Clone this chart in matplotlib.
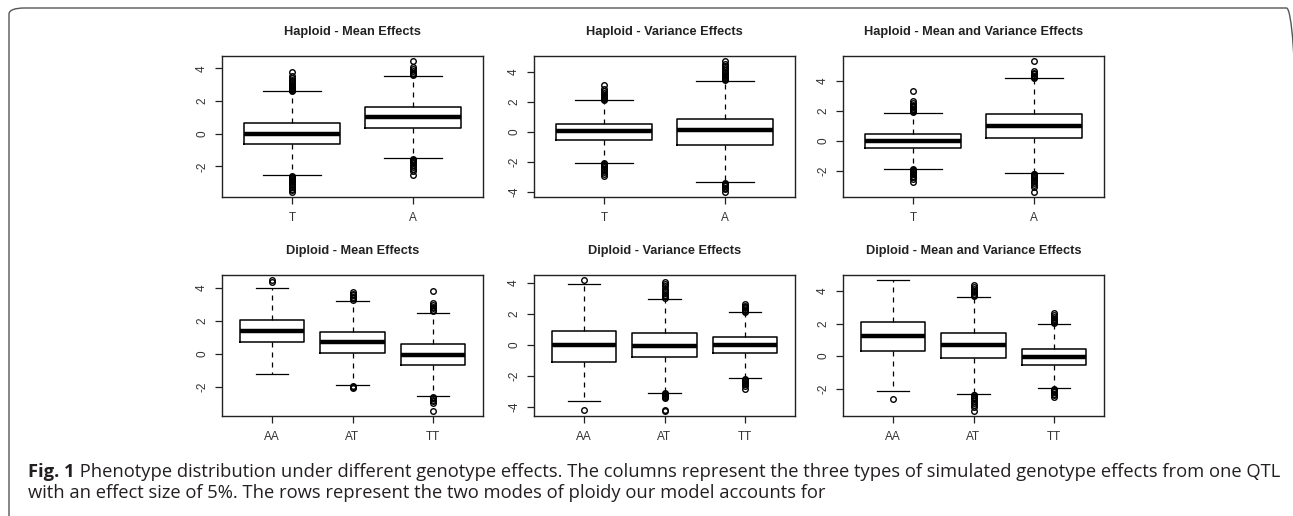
import matplotlib
matplotlib.use("Agg")
import matplotlib.pyplot as plt
from matplotlib import font_manager
from matplotlib.patches import FancyBboxPatch

W, H = 1293, 516
plt.rcParams["axes.unicode_minus"] = False
plt.rcParams["font.family"] = ["Liberation Sans", "DejaVu Sans"]

# ---- data (box stats + outliers) ----
hap_labels = ["T", "A"]
dip_labels = ["AA", "AT", "TT"]

titles = [
    "Haploid - Mean Effects", "Haploid - Variance Effects", "Haploid - Mean and Variance Effects",
    "Diploid - Mean Effects", "Diploid - Variance Effects", "Diploid - Mean and Variance Effects",
]

# (whislo, q1, med, q3, whishi)
hap_mean = [(-2.52, -0.63, 0.0, 0.63, 2.58), (-1.46, 0.37, 1.0, 1.62, 3.51)]
hap_mean_out = [
    [2.62, 2.66, 2.7, 2.74, 2.8, 2.86, 2.93, 3.0, 3.1, 3.2, 3.3, 3.42, 3.52, 3.8,
     -2.56, -2.62, -2.68, -2.74, -2.8, -2.88, -2.96, -3.05, -3.15, -3.25, -3.35, -3.45, -3.55],
    [3.56, 3.62, 3.7, 3.82, 3.95, 4.08, 4.43,
     -1.52, -1.58, -1.65, -1.72, -1.8, -1.9, -2.02, -2.15, -2.3, -2.52],
]
hap_var = [(-2.07, -0.53, 0.02, 0.53, 2.1), (-3.36, -0.85, 0.09, 0.84, 3.4)]
hap_var_out = [
    [2.14, 2.2, 2.26, 2.33, 2.4, 2.48, 2.58, 2.7, 2.85, 3.1,
     -2.1, -2.15, -2.22, -2.3, -2.38, -2.46, -2.55, -2.68, -2.82, -2.95],
    [3.44, 3.5, 3.56, 3.63, 3.7, 3.8, 3.9, 4.0, 4.12, 4.25, 4.38, 4.52, 4.7,
     -3.42, -3.48, -3.55, -3.62, -3.72, -3.84, -4.0],
]
hap_both = [(-1.88, -0.49, 0.0, 0.47, 1.88), (-2.17, 0.2, 0.99, 1.77, 4.18)]
hap_both_out = [
    [1.93, 1.98, 2.04, 2.1, 2.16, 2.24, 2.32, 2.42, 2.55, 2.68, 3.34,
     -1.92, -1.97, -2.03, -2.1, -2.17, -2.25, -2.34, -2.45, -2.58, -2.75],
    [4.22, 4.28, 4.36, 4.45, 4.56, 4.68, 5.33,
     -2.21, -2.26, -2.32, -2.38, -2.45, -2.53, -2.62, -2.72, -2.84, -2.96, -3.09, -3.42],
]
dip_mean = [(-1.24, 0.69, 1.36, 2.03, 4.0), (-1.87, 0.02, 0.69, 1.32, 3.21),
            (-2.56, -0.67, -0.06, 0.59, 2.46)]
dip_mean_out = [
    [4.35, 4.47],
    [3.28, 3.36, 3.45, 3.55, 3.65, 3.76, -1.95, -2.02, -2.1],
    [2.6, 2.68, 2.76, 2.86, 2.96, 3.08, 3.8,
     -2.62, -2.7, -2.78, -2.88, -2.98, -3.46],
]
dip_var = [(-3.64, -1.1, 0.0, 0.93, 3.93), (-3.09, -0.8, -0.04, 0.75, 3.0),
           (-2.17, -0.53, 0.0, 0.5, 2.12)]
dip_var_out = [
    [4.19, -4.2],
    [3.06, 3.14, 3.24, 3.36, 3.5, 3.64, 3.8, 3.95, 4.1,
     -3.12, -3.17, -3.22, -3.28, -3.35, -3.42, -4.18, -4.26],
    [2.16, 2.22, 2.28, 2.36, 2.45, 2.55, 2.67,
     -2.2, -2.25, -2.31, -2.38, -2.46, -2.55, -2.66, -2.84],
]
dip_both = [(-2.14, 0.33, 1.25, 2.08, 4.67), (-2.31, -0.1, 0.7, 1.4, 3.64),
            (-1.98, -0.54, -0.04, 0.47, 1.99)]
dip_both_out = [
    [-2.65],
    [3.7, 3.76, 3.84, 3.92, 4.02, 4.14, 4.28, 4.4,
     -2.36, -2.42, -2.5, -2.58, -2.66, -2.76, -2.86, -2.98, -3.1, -3.36],
    [2.04, 2.09, 2.15, 2.22, 2.3, 2.4, 2.52, 2.67,
     -2.03, -2.08, -2.14, -2.22, -2.32, -2.42, -2.53],
]

caption_bold = "Fig. 1"
caption_line1 = (" Phenotype distribution under different genotype effects. The columns represent "
                 "the three types of simulated genotype effects from one QTL")
caption_line2 = ("with an effect size of 5%. The rows represent the two modes of ploidy "
                 "our model accounts for")

panels = [
    (hap_labels, hap_mean, hap_mean_out),
    (hap_labels, hap_var, hap_var_out),
    (hap_labels, hap_both, hap_both_out),
    (dip_labels, dip_mean, dip_mean_out),
    (dip_labels, dip_var, dip_var_out),
    (dip_labels, dip_both, dip_both_out),
]

# ---- layout (pixels) ----
col_left = [222, 534, 843]
ax_w = 261
row_top = [56, 275]
ax_h = 141
txt_col = "#333333"

fig = plt.figure(figsize=(W / 100, H / 100), dpi=100)
fig.patch.set_facecolor("white")

for i, (labels, stats_raw, outs) in enumerate(panels):
    r, c = divmod(i, 3)
    ax = fig.add_axes([col_left[c] / W, 1 - (row_top[r] + ax_h) / H, ax_w / W, ax_h / H])
    n = len(labels)
    stats = []
    for lab, (lo, q1, med, q3, hi), fl in zip(labels, stats_raw, outs):
        stats.append(dict(label=lab, whislo=lo, q1=q1, med=med, q3=q3, whishi=hi, fliers=fl))
    pos = list(range(1, n + 1))
    ax.bxp(
        stats, positions=pos, widths=0.8, capwidths=0.48 if n == 2 else 0.4,
        boxprops=dict(color="black", linewidth=1.1),
        medianprops=dict(color="black", linewidth=3.2, solid_capstyle="butt"),
        whiskerprops=dict(color="black", linewidth=0.9, linestyle=(0, (4, 4))),
        capprops=dict(color="black", linewidth=0.9),
        flierprops=dict(marker="o", markerfacecolor="none", markeredgecolor="black",
                        markersize=4.0, markeredgewidth=1.0),
    )
    allv = [v for s in stats_raw for v in s] + [v for o in outs for v in o]
    lo, hi = min(allv), max(allv)
    pad = 0.04 * (hi - lo)
    ax.set_ylim(lo - pad, hi + pad)
    ax.set_xlim(0.5 - 0.04 * n, n + 0.5 + 0.04 * n)
    ax.set_yticks([t for t in [-4, -2, 0, 2, 4] if lo - pad <= t <= hi + pad])
    ax.set_xticks(pos)
    ax.set_xticklabels(labels)
    ax.tick_params(axis="both", direction="out", length=5, width=0.9, color="#222222",
                   labelsize=8.5, labelcolor=txt_col)
    ax.tick_params(axis="x", pad=6)
    ax.tick_params(axis="y", pad=5)
    for lab in ax.get_yticklabels():
        lab.set_rotation(90)
        lab.set_va("center")
    for sp in ax.spines.values():
        sp.set_linewidth(1.0)
        sp.set_color("#222222")
    ax.set_title(titles[i], fontsize=9.2, fontweight="bold", color="#222222", pad=15)

# ---- frame around the figure (top + left, rounded corner) ----
frame = FancyBboxPatch((9 / W, -0.2), (1302 - 9) / W, 0.2 + (1 - 8 / H),
                       boxstyle="round,pad=0,rounding_size=0.012",
                       transform=fig.transFigure, facecolor="none",
                       edgecolor="#555555", linewidth=1.0, clip_on=False)
fig.patches.append(frame)

# ---- caption ----
names = {f.name for f in font_manager.fontManager.ttflist}
cap_font = [f for f in ["Liberation Sans Narrow", "Open Sans"] if f in names] + ["DejaVu Sans"]
fs = 12.0
t1 = fig.text(28 / W, 1 - 472 / H, caption_bold, fontsize=fs, fontweight="bold",
              family=cap_font, color="#231f20", va="center", ha="left")
fig.canvas.draw()
rend = fig.canvas.get_renderer()
bb = t1.get_window_extent(rend)
t2 = fig.text(bb.x1 / W, 1 - 472 / H, caption_line1, fontsize=fs, family=cap_font,
              color="#231f20", va="center", ha="left")
bb2 = t2.get_window_extent(rend)
# scale the caption so line 1 ends where it does in the reference
scale = (1272 - 28) / (bb2.x1 - bb.x0)
fs2 = fs * scale
t1.set_fontsize(fs2)
fig.canvas.draw()
bb = t1.get_window_extent(rend)
t2.set_fontsize(fs2)
t2.set_x(bb.x1 / W)
fig.text(28 / W, 1 - 493 / H, caption_line2, fontsize=fs2, family=cap_font,
         color="#231f20", va="center", ha="left")

fig.savefig("out.png", dpi=100)
